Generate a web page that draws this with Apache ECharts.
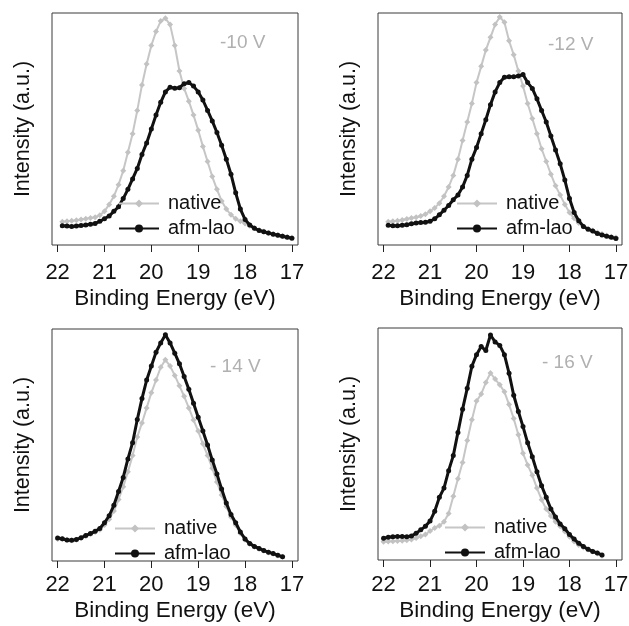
<!DOCTYPE html>
<html><head><meta charset="utf-8">
<script src="https://cdn.jsdelivr.net/npm/echarts@6/dist/echarts.min.js"></script>
<style>html,body{margin:0;padding:0;background:#fff}#c{width:629px;height:626px}</style>
</head><body><div id="c"></div>
<script>
// ---- data (Binding energy in eV, intensity in a.u. 0..100 of panel height) ----
const tickValues = [17, 18, 19, 20, 21, 22];
const panelLabels = ['-10 V', '-12 V', '- 14 V', '- 16 V'];

const energyA = [21.9,21.8,21.7,21.6,21.5,21.4,21.3,21.2,21.1,21.0,20.9,20.8,20.7,20.6,20.5,20.4,20.3,20.2,20.1,20.0,19.9,19.8,19.7,19.6,19.5,19.4,19.3,19.2,19.1,19.0,18.9,18.8,18.7,18.6,18.5,18.4,18.3,18.2,18.1,18.0,17.9,17.8,17.7,17.6,17.5,17.4,17.3,17.2,17.1,17.0];
const energyC = [22.0,21.9,21.8,21.7,21.6,21.5,21.4,21.3,21.2,21.1,21.0,20.9,20.8,20.7,20.6,20.5,20.4,20.3,20.2,20.1,20.0,19.9,19.8,19.7,19.6,19.5,19.4,19.3,19.2,19.1,19.0,18.9,18.8,18.7,18.6,18.5,18.4,18.3,18.2,18.1,18.0,17.9,17.8,17.7,17.6,17.5,17.4,17.3,17.2];
const energyD = [22.0,21.9,21.8,21.7,21.6,21.5,21.4,21.3,21.2,21.1,21.0,20.9,20.8,20.7,20.6,20.5,20.4,20.3,20.2,20.1,20.0,19.9,19.8,19.7,19.6,19.5,19.4,19.3,19.2,19.1,19.0,18.9,18.8,18.7,18.6,18.5,18.4,18.3,18.2,18.1,18.0,17.9,17.8,17.7,17.6,17.5,17.4,17.3];

// -10 V
const native10 = [10,10.2,10.4,10.7,11,11.3,11.6,12,12.8,14.5,17.5,21,26,32,40,48,58,69,78,86,92,96.5,97.7,95,86,75,67.5,62,56,49.5,42.5,36,29.5,24,19,15.5,13,11.3,10.2,9.3,8.3,7.3,6.5,5.8,5.2,4.7,4.3,3.9,3.5,3.2];
const afm10 = [8.3,8.2,8.0,8.2,8.4,8.6,8.9,9.3,10.2,11.3,12.5,14.5,16.5,20,24,28.5,33,39,44,50,56,61.5,66,68,67.6,67.8,69.5,70,68.5,66,62.5,58,53.5,48.5,43,37,30.5,22.5,15.5,11,8.6,7.2,6.3,5.7,5.2,4.6,4.2,3.8,3.3,2.9];
// -12 V
const native12 = [10,10.2,10.5,10.8,11.2,11.6,12,12.5,13.3,14.5,16,18,21,25,30,37,45,53,61,70,77,84,89.5,95,98.3,96,88,82,75,68.5,61,54.5,48,41.5,36,30.5,25.5,21.5,17.5,14,11.5,9.5,8,7,6.2,5.4,4.7,4.1,3.6,3.2];
const afm12 = [8.5,8.3,8.3,8.5,8.7,9.2,9.5,9.7,9.8,10.2,11.3,13,15,17,19.5,21.5,25,30,37,42,48,54,60.5,66,70,72.3,72.5,72.5,72.8,73.5,70,67.5,63,58,53,47,41,35,28,20,14,10.5,8,6.8,6,5,4.3,3.8,3.3,2.8];
// -14 V
const native14 = [9.5,9.5,9,8.9,9.2,9.8,10.7,11.5,12.5,13.5,15.5,18,21.5,26.5,32,38.5,45.5,53.5,59.5,66,72.5,78,83.5,86.7,84,80,75.5,71,66,60.8,56,50.5,45.5,40,34,28.5,23.5,19,15.5,12,9.2,7.3,6.1,5.2,4.4,3.7,3.1,2.4,1.8];
const afm14 = [9.9,9.6,9,8.9,9.3,10,11,11.8,12.8,14,16.5,19.5,24,30,36,44,51,61,70,78,84,90,94,97.5,94,89.6,85,79.5,74,68,62,56,50,43.5,37.5,31,25,20,16.5,12.5,9.5,7.5,6.3,5.4,4.5,3.8,3.2,2.5,1.8];
// -16 V
const native16 = [7.9,8,8.1,8.2,8.3,8.5,8.8,9.5,10.2,11,12.5,13.8,14.8,16.5,20,27.5,35,42,51.5,60.4,68.5,71.5,76.5,80.6,78,75.5,72.5,67,61,54,46,41,36.5,31,26,22,19,16.5,14.5,12.3,10,8,6.5,5.4,4.5,3.7,2.8,1.8];
const afm16 = [9.4,9.8,10,10.1,10.1,10,10.3,11.5,13,14.5,16.8,21,27,31,38.5,45,55,65,74,83.5,88.5,92,90.3,97,94,92.5,88.5,80.5,71,64,57.5,50.5,44.5,38,32,27,22,18.5,15.5,13.5,11,9,7.2,5.8,4.6,3.7,3,2.2];

const panels = [
  {energy: energyA, native: native10, afm: afm10},
  {energy: energyA, native: native12, afm: afm12},
  {energy: energyC, native: native14, afm: afm14},
  {energy: energyD, native: native16, afm: afm16}
];

// ---- layout ----
const FONT = '"Liberation Sans", Arial, Helvetica, sans-serif';
const gridPos = [
  {left: 52, top: 13, width: 246, height: 232},
  {left: 378, top: 13, width: 244, height: 232},
  {left: 52, top: 329, width: 246, height: 232},
  {left: 378, top: 328, width: 244, height: 232}
];
const axisGaps = [
  {margin: 15, nameGap: 40},
  {margin: 15, nameGap: 40},
  {margin: 11, nameGap: 36},
  {margin: 12, nameGap: 37}
];
const legendPos = [
  {left: 118, top: 193},
  {left: 456, top: 193},
  {left: 114, top: 518},
  {left: 444, top: 517}
];
const labelPos = [
  {left: 220, top: 33},
  {left: 548, top: 35},
  {left: 210, top: 357},
  {left: 542, top: 353}
];

const grid = gridPos.map(g => Object.assign({show: true, borderColor: '#3a3a3a', borderWidth: 1, backgroundColor: 'transparent', outerBoundsMode: 'none'}, g));

const xAxis = panels.map((p, i) => ({
  type: 'value', gridIndex: i, inverse: true, min: 16.87, max: 22.12, offset: 2,
  axisLine: {show: false},
  axisTick: {show: true, inside: false, length: 7, customValues: tickValues, lineStyle: {color: '#222', width: 1}},
  axisLabel: {show: true, customValues: tickValues, fontSize: 22, fontFamily: FONT, color: '#111', margin: axisGaps[i].margin},
  splitLine: {show: false},
  name: 'Binding Energy (eV)', nameLocation: 'middle', nameGap: axisGaps[i].nameGap,
  nameTextStyle: {fontSize: 22.5, fontFamily: FONT, color: '#111'}
}));

const yAxis = panels.map((p, i) => ({
  type: 'value', gridIndex: i, min: 0, max: 100,
  axisLine: {show: false}, axisTick: {show: false}, axisLabel: {show: false}, splitLine: {show: false},
  name: 'Intensity (a.u.)', nameLocation: 'middle', nameGap: 18,
  nameTextStyle: {fontSize: 21.5, fontFamily: FONT, color: '#111'}
}));

const series = [];
panels.forEach((p, i) => {
  series.push({
    name: 'native', type: 'line', xAxisIndex: i, yAxisIndex: i,
    data: p.energy.map((e, k) => [e, p.native[k]]),
    symbol: 'diamond', symbolSize: 6, showSymbol: true,
    lineStyle: {color: '#c6c6c6', width: 2},
    itemStyle: {color: '#c2c2c2'},
    animation: false, z: 2
  });
  series.push({
    name: 'afm-lao', type: 'line', xAxisIndex: i, yAxisIndex: i,
    data: p.energy.map((e, k) => [e, p.afm[k]]),
    symbol: 'circle', symbolSize: 5, showSymbol: true,
    lineStyle: {color: '#111', width: 3},
    itemStyle: {color: '#111'},
    animation: false, z: 3
  });
});

const legend = legendPos.map(l => ({
  data: ['native', 'afm-lao'], orient: 'vertical', left: l.left, top: l.top,
  itemWidth: 40, itemHeight: 10, itemGap: 4, padding: 0, selectedMode: false,
  textStyle: {fontSize: 20, fontFamily: FONT, color: '#111', lineHeight: 21, padding: [0, 0, 0, 4]}
}));

const graphic = labelPos.map((l, i) => ({
  type: 'text', left: l.left, top: l.top,
  style: {text: panelLabels[i], fontSize: 19, fontFamily: FONT, fill: '#b0b0b0'}
}));

const chart = echarts.init(document.getElementById('c'), null, {renderer: 'canvas'});
chart.setOption({animation: false, backgroundColor: '#fff', grid, xAxis, yAxis, series, legend, graphic});
</script></body></html>
